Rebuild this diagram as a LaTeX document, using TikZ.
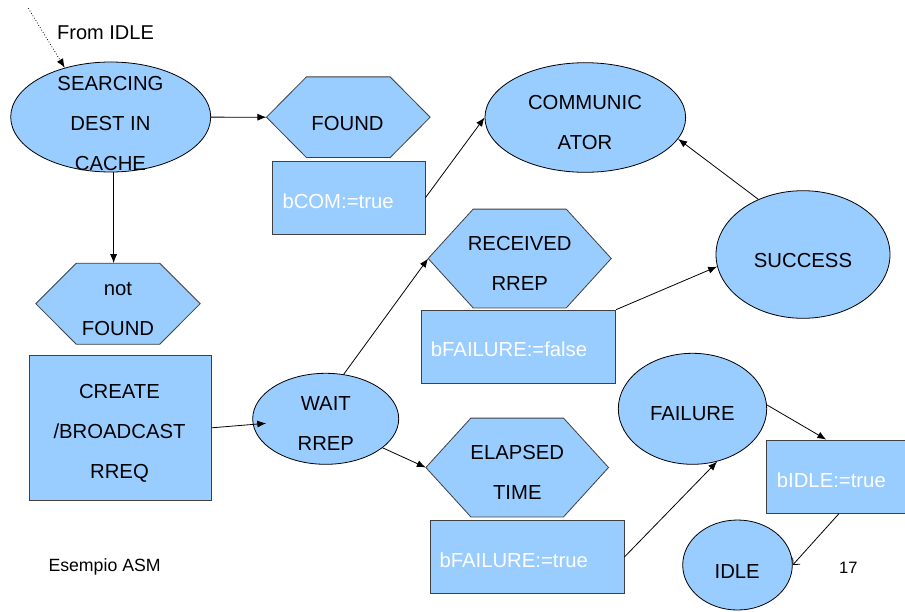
\documentclass[tikz,border=0pt]{standalone}
\usepackage{fontspec}
\setmainfont{Liberation Sans}
\usetikzlibrary{arrows.meta,shapes.geometric,calc}
\definecolor{fillblue}{HTML}{99CCFF}
\newcommand\hexpoly[2]{%
  \draw[hexline] (#1.west) -- ([xshift=#2pt]#1.north west) -- ([xshift=-#2pt]#1.north east)
    -- (#1.east) -- ([xshift=-#2pt]#1.south east) -- ([xshift=#2pt]#1.south west) -- cycle;}
\begin{document}
\begin{tikzpicture}[x=1pt,y=-1pt,
  state/.style={ellipse, draw=black, fill=fillblue, line width=0.8pt, inner sep=0pt},
  actbox/.style={rectangle, draw=black!75, fill=fillblue, line width=0.8pt, inner sep=0pt},
  hexbox/.style={rectangle, inner sep=0pt},
  hexline/.style={draw=black!75, fill=fillblue, line width=0.8pt},
  lbl/.style={inner sep=0pt, yshift=-1.2pt, font=\fontsize{20.3pt}{40pt}\selectfont, align=center},
  wlbl/.style={inner sep=0pt, font=\fontsize{20.3pt}{24pt}\selectfont, text=white, anchor=west},
  arr/.style={-{Latex[length=9pt,width=7pt]}, line width=0.8pt},
  openarr/.style={-{Straight Barb[length=5pt,width=10pt]}, line width=0.8pt}]
\path[use as bounding box, clip] (0,0) rectangle (905,611);

% top-left
\node[state, minimum width=200pt, minimum height=110pt] (search) at (110.7,117) {};
\node[lbl] (searchT) at (110.5,122) {SEARCING\\DEST IN\\CACHE};
\node[inner sep=0pt, anchor=west, font=\fontsize{20pt}{24pt}\selectfont] (fromT) at (57,32.5) {From IDLE};
\coordinate (fromstart) at (28.3,8.3);

% FOUND
\node[hexbox, minimum width=163.3pt, minimum height=80.3pt] (found) at (348.3,117.2) {};
\hexpoly{found}{40}
\node[lbl] (foundT) at (347.5,122) {FOUND};
\node[actbox, minimum width=152.3pt, minimum height=73pt] (bcom) at (348.8,197.8) {};
\node[wlbl] (bcomT) at (282.3,201) {bCOM:=true};

% COMMUNICATOR
\node[state, minimum width=200.7pt, minimum height=109.6pt] (comm) at (585.3,117.5) {};
\node[lbl] (commT) at (585,121.7) {COMMUNIC\\ATOR};

% SUCCESS
\node[state, minimum width=174pt, minimum height=127.6pt] (succ) at (803,254.5) {};
\node[lbl] (succT) at (803,259) {SUCCESS};

% RECEIVED
\node[hexbox, minimum width=182.7pt, minimum height=98.4pt] (recv) at (519.7,258.5) {};
\hexpoly{recv}{45}
\node[lbl] (recvT) at (519.7,262) {RECEIVED\\RREP};
\node[actbox, minimum width=194pt, minimum height=73.3pt] (bff) at (518.7,346.7) {};
\node[wlbl] (bffT) at (430.7,349.3) {bFAILURE:=false};

% not FOUND
\node[hexbox, minimum width=164pt, minimum height=80.7pt] (nf) at (118,303.7) {};
\hexpoly{nf}{40.5}
\node[lbl] (nfT) at (118,308.2) {not\\FOUND};

% CREATE
\node[actbox, minimum width=182.3pt, minimum height=145.7pt] (create) at (120.2,427.8) {};
\node[lbl] (createT) at (119.5,431.7) {CREATE\\/BROADCAST\\RREQ};

% WAIT
\node[state, minimum width=146pt, minimum height=91pt] (wait) at (325.7,418.8) {};
\node[lbl] (waitT) at (325.8,422.7) {WAIT\\RREP};

% ELAPSED
\node[hexbox, minimum width=182.3pt, minimum height=98.4pt] (elap) at (517.2,467.5) {};
\hexpoly{elap}{45}
\node[lbl] (elapT) at (517.3,470.8) {ELAPSED\\TIME};
\node[actbox, minimum width=194pt, minimum height=72.6pt] (bft) at (527,557) {};
\node[wlbl] (bftT) at (439.3,560) {bFAILURE:=true};

% FAILURE
\node[state, minimum width=148.4pt, minimum height=111pt] (fail) at (692.5,408.8) {};
\node[lbl] (failT) at (692.3,412.3) {FAILURE};
\node[actbox, minimum width=183.3pt, minimum height=73.3pt] (bidle) at (858.35,476.65) {};
\node[wlbl] (bidleT) at (776.7,480) {bIDLE:=true};

% IDLE
\node[state, minimum width=109.6pt, minimum height=90pt] (idle) at (737.5,565) {};
\node[lbl] (idleT) at (737.2,570) {IDLE};

% footer
\node[inner sep=0pt, anchor=west, font=\fontsize{17.7pt}{20pt}\selectfont] (esT) at (48.3,567.3) {Esempio ASM};
\node[inner sep=0pt, font=\fontsize{16.5pt}{20pt}\selectfont] (numT) at (848.3,568.3) {17};

% connectors
\draw[arr, line width=0.8pt, dotted] (fromstart) -- (search.133);
\draw[arr] (search) -- (found.west);
\draw[arr] (search.-87) -- (search.-87 |- nf.north);
\draw[arr] (bcom.east) -- (comm.west);
\draw[arr] (succ.129) -- (comm.-13);
\draw[arr] (bff.north east) -- (succ.188);
\draw[arr] (create.east) -- ([xshift=14pt,yshift=-4.5pt]wait.west);
\draw[arr] (wait.68) -- (recv.west);
\draw[arr] (wait.-27) -- (elap.west);
\draw[arr] (bft.east) -- (fail.-65);
\draw[arr] (fail.3) -- ([xshift=60pt]bidle.north west);
\draw[openarr] ([xshift=72.6pt]bidle.south west) -- (idle.east);
\end{tikzpicture}
\end{document}
